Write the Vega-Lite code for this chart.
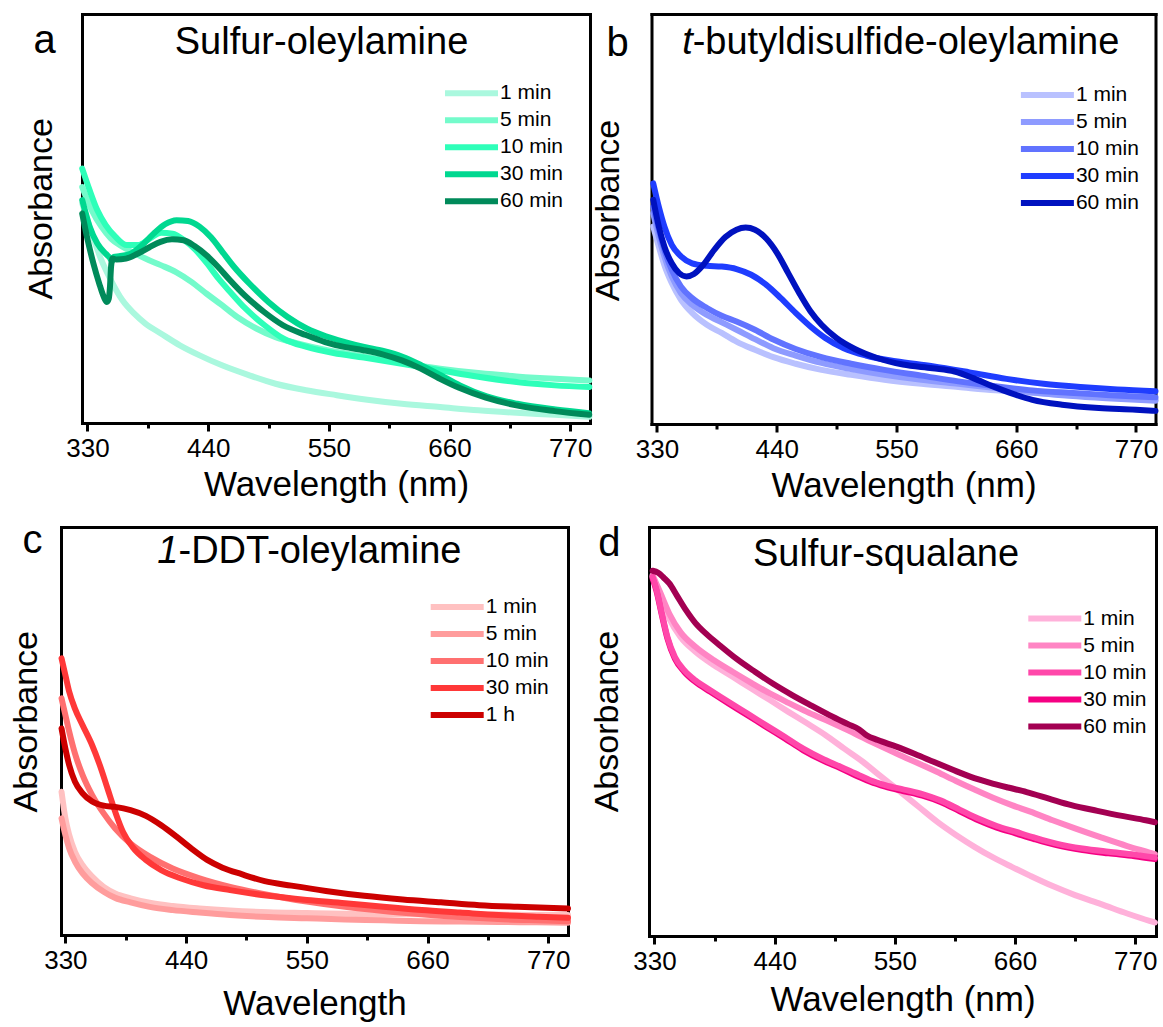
{
  "$schema": "https://vega.github.io/schema/vega-lite/v6.json",
  "autosize": {"type": "none"},
  "padding": {"left": 61, "top": 14, "right": 1102, "bottom": 1013},
  "background": "white",
  "datasets": {
    "a": [
      {"t":"1 min","wl":325.2,"abs":0.537},{"t":"1 min","wl":334.0,"abs":0.463},{"t":"1 min","wl":342.7,"abs":0.398},{"t":"1 min","wl":351.4,"abs":0.349},{"t":"1 min","wl":361.9,"abs":0.300},{"t":"1 min","wl":372.4,"abs":0.268},{"t":"1 min","wl":382.8,"abs":0.243},{"t":"1 min","wl":396.8,"abs":0.219},{"t":"1 min","wl":414.2,"abs":0.190},{"t":"1 min","wl":431.7,"abs":0.166},{"t":"1 min","wl":452.6,"abs":0.141},{"t":"1 min","wl":477.0,"abs":0.117},{"t":"1 min","wl":501.4,"abs":0.096},{"t":"1 min","wl":529.3,"abs":0.080},{"t":"1 min","wl":557.2,"abs":0.068},{"t":"1 min","wl":585.1,"abs":0.057},{"t":"1 min","wl":616.5,"abs":0.047},{"t":"1 min","wl":651.4,"abs":0.039},{"t":"1 min","wl":686.3,"abs":0.031},{"t":"1 min","wl":721.1,"abs":0.025},{"t":"1 min","wl":756.0,"abs":0.020},{"t":"1 min","wl":787.4,"abs":0.015},
      {"t":"5 min","wl":325.2,"abs":0.577},{"t":"5 min","wl":334.0,"abs":0.520},{"t":"5 min","wl":342.7,"abs":0.480},{"t":"5 min","wl":351.4,"abs":0.451},{"t":"5 min","wl":361.9,"abs":0.431},{"t":"5 min","wl":372.4,"abs":0.416},{"t":"5 min","wl":382.8,"abs":0.402},{"t":"5 min","wl":396.8,"abs":0.386},{"t":"5 min","wl":410.7,"abs":0.369},{"t":"5 min","wl":424.7,"abs":0.345},{"t":"5 min","wl":438.6,"abs":0.316},{"t":"5 min","wl":452.6,"abs":0.288},{"t":"5 min","wl":466.5,"abs":0.259},{"t":"5 min","wl":483.9,"abs":0.231},{"t":"5 min","wl":501.4,"abs":0.210},{"t":"5 min","wl":522.3,"abs":0.194},{"t":"5 min","wl":546.4,"abs":0.179},{"t":"5 min","wl":581.9,"abs":0.163},{"t":"5 min","wl":616.5,"abs":0.147},{"t":"5 min","wl":651.4,"abs":0.133},{"t":"5 min","wl":686.3,"abs":0.122},{"t":"5 min","wl":721.1,"abs":0.114},{"t":"5 min","wl":756.0,"abs":0.108},{"t":"5 min","wl":787.4,"abs":0.104},
      {"t":"10 min","wl":325.2,"abs":0.622},{"t":"10 min","wl":332.0,"abs":0.569},{"t":"10 min","wl":339.0,"abs":0.520},{"t":"10 min","wl":346.6,"abs":0.484},{"t":"10 min","wl":355.6,"abs":0.455},{"t":"10 min","wl":365.7,"abs":0.435},{"t":"10 min","wl":376.2,"abs":0.435},{"t":"10 min","wl":386.7,"abs":0.451},{"t":"10 min","wl":397.1,"abs":0.465},{"t":"10 min","wl":407.6,"abs":0.463},{"t":"10 min","wl":418.1,"abs":0.447},{"t":"10 min","wl":428.5,"abs":0.423},{"t":"10 min","wl":439.0,"abs":0.390},{"t":"10 min","wl":449.5,"abs":0.353},{"t":"10 min","wl":459.9,"abs":0.321},{"t":"10 min","wl":473.9,"abs":0.280},{"t":"10 min","wl":491.4,"abs":0.239},{"t":"10 min","wl":508.8,"abs":0.206},{"t":"10 min","wl":529.8,"abs":0.186},{"t":"10 min","wl":554.2,"abs":0.171},{"t":"10 min","wl":581.9,"abs":0.160},{"t":"10 min","wl":616.5,"abs":0.145},{"t":"10 min","wl":651.4,"abs":0.129},{"t":"10 min","wl":686.3,"abs":0.113},{"t":"10 min","wl":721.1,"abs":0.100},{"t":"10 min","wl":756.0,"abs":0.092},{"t":"10 min","wl":787.4,"abs":0.088},
      {"t":"30 min","wl":325.2,"abs":0.545},{"t":"30 min","wl":332.0,"abs":0.480},{"t":"30 min","wl":339.0,"abs":0.439},{"t":"30 min","wl":346.6,"abs":0.414},{"t":"30 min","wl":350.1,"abs":0.405},{"t":"30 min","wl":352.5,"abs":0.396},{"t":"30 min","wl":354.0,"abs":0.406},{"t":"30 min","wl":358.9,"abs":0.408},{"t":"30 min","wl":369.3,"abs":0.414},{"t":"30 min","wl":379.8,"abs":0.435},{"t":"30 min","wl":390.3,"abs":0.463},{"t":"30 min","wl":400.7,"abs":0.486},{"t":"30 min","wl":411.2,"abs":0.496},{"t":"30 min","wl":421.7,"abs":0.494},{"t":"30 min","wl":432.1,"abs":0.480},{"t":"30 min","wl":442.6,"abs":0.454},{"t":"30 min","wl":453.1,"abs":0.418},{"t":"30 min","wl":463.5,"abs":0.382},{"t":"30 min","wl":477.5,"abs":0.341},{"t":"30 min","wl":494.9,"abs":0.296},{"t":"30 min","wl":512.4,"abs":0.259},{"t":"30 min","wl":529.8,"abs":0.231},{"t":"30 min","wl":547.3,"abs":0.212},{"t":"30 min","wl":564.7,"abs":0.198},{"t":"30 min","wl":582.2,"abs":0.186},{"t":"30 min","wl":599.6,"abs":0.176},{"t":"30 min","wl":617.1,"abs":0.162},{"t":"30 min","wl":634.5,"abs":0.141},{"t":"30 min","wl":651.9,"abs":0.117},{"t":"30 min","wl":669.4,"abs":0.092},{"t":"30 min","wl":693.8,"abs":0.065},{"t":"30 min","wl":721.7,"abs":0.047},{"t":"30 min","wl":756.6,"abs":0.033},{"t":"30 min","wl":787.0,"abs":0.024},
      {"t":"60 min","wl":325.2,"abs":0.512},{"t":"60 min","wl":330.2,"abs":0.447},{"t":"60 min","wl":335.4,"abs":0.390},{"t":"60 min","wl":340.7,"abs":0.341},{"t":"60 min","wl":344.9,"abs":0.308},{"t":"60 min","wl":347.7,"abs":0.296},{"t":"60 min","wl":349.4,"abs":0.304},{"t":"60 min","wl":350.5,"abs":0.333},{"t":"60 min","wl":351.5,"abs":0.382},{"t":"60 min","wl":352.9,"abs":0.402},{"t":"60 min","wl":356.4,"abs":0.400},{"t":"60 min","wl":365.1,"abs":0.402},{"t":"60 min","wl":375.6,"abs":0.414},{"t":"60 min","wl":386.1,"abs":0.429},{"t":"60 min","wl":396.5,"abs":0.443},{"t":"60 min","wl":407.0,"abs":0.449},{"t":"60 min","wl":417.5,"abs":0.447},{"t":"60 min","wl":427.9,"abs":0.432},{"t":"60 min","wl":438.4,"abs":0.410},{"t":"60 min","wl":448.9,"abs":0.382},{"t":"60 min","wl":459.3,"abs":0.351},{"t":"60 min","wl":473.3,"abs":0.312},{"t":"60 min","wl":490.7,"abs":0.272},{"t":"60 min","wl":508.2,"abs":0.239},{"t":"60 min","wl":529.1,"abs":0.215},{"t":"60 min","wl":546.6,"abs":0.198},{"t":"60 min","wl":564.0,"abs":0.186},{"t":"60 min","wl":581.5,"abs":0.178},{"t":"60 min","wl":598.9,"abs":0.168},{"t":"60 min","wl":616.4,"abs":0.153},{"t":"60 min","wl":633.8,"abs":0.133},{"t":"60 min","wl":651.3,"abs":0.108},{"t":"60 min","wl":668.7,"abs":0.086},{"t":"60 min","wl":693.1,"abs":0.062},{"t":"60 min","wl":721.0,"abs":0.043},{"t":"60 min","wl":755.9,"abs":0.029},{"t":"60 min","wl":787.3,"abs":0.020}
    ],
    "b": [
      {"t":"1 min","wl":326.6,"abs":0.482},{"t":"1 min","wl":331.7,"abs":0.433},{"t":"1 min","wl":336.8,"abs":0.388},{"t":"1 min","wl":343.6,"abs":0.344},{"t":"1 min","wl":352.1,"abs":0.303},{"t":"1 min","wl":362.3,"abs":0.271},{"t":"1 min","wl":375.9,"abs":0.242},{"t":"1 min","wl":389.5,"abs":0.222},{"t":"1 min","wl":403.1,"abs":0.201},{"t":"1 min","wl":420.0,"abs":0.181},{"t":"1 min","wl":437.0,"abs":0.163},{"t":"1 min","wl":457.4,"abs":0.147},{"t":"1 min","wl":481.2,"abs":0.132},{"t":"1 min","wl":508.4,"abs":0.120},{"t":"1 min","wl":538.9,"abs":0.108},{"t":"1 min","wl":573.0,"abs":0.098},{"t":"1 min","wl":606.9,"abs":0.090},{"t":"1 min","wl":640.9,"abs":0.082},{"t":"1 min","wl":674.9,"abs":0.076},{"t":"1 min","wl":708.9,"abs":0.070},{"t":"1 min","wl":742.8,"abs":0.066},{"t":"1 min","wl":770.0,"abs":0.063},{"t":"1 min","wl":788.0,"abs":0.059},
      {"t":"5 min","wl":326.6,"abs":0.514},{"t":"5 min","wl":331.7,"abs":0.457},{"t":"5 min","wl":336.8,"abs":0.409},{"t":"5 min","wl":343.6,"abs":0.360},{"t":"5 min","wl":352.1,"abs":0.319},{"t":"5 min","wl":362.3,"abs":0.291},{"t":"5 min","wl":375.9,"abs":0.266},{"t":"5 min","wl":389.5,"abs":0.248},{"t":"5 min","wl":403.1,"abs":0.230},{"t":"5 min","wl":420.0,"abs":0.207},{"t":"5 min","wl":437.0,"abs":0.185},{"t":"5 min","wl":457.4,"abs":0.167},{"t":"5 min","wl":481.2,"abs":0.149},{"t":"5 min","wl":508.4,"abs":0.134},{"t":"5 min","wl":538.9,"abs":0.120},{"t":"5 min","wl":573.0,"abs":0.108},{"t":"5 min","wl":606.9,"abs":0.098},{"t":"5 min","wl":640.9,"abs":0.088},{"t":"5 min","wl":674.9,"abs":0.077},{"t":"5 min","wl":708.9,"abs":0.069},{"t":"5 min","wl":742.8,"abs":0.063},{"t":"5 min","wl":770.0,"abs":0.059},{"t":"5 min","wl":788.0,"abs":0.057},
      {"t":"10 min","wl":326.6,"abs":0.530},{"t":"10 min","wl":331.7,"abs":0.474},{"t":"10 min","wl":336.8,"abs":0.425},{"t":"10 min","wl":343.6,"abs":0.376},{"t":"10 min","wl":352.1,"abs":0.335},{"t":"10 min","wl":362.3,"abs":0.307},{"t":"10 min","wl":375.9,"abs":0.283},{"t":"10 min","wl":389.5,"abs":0.264},{"t":"10 min","wl":403.1,"abs":0.250},{"t":"10 min","wl":420.0,"abs":0.230},{"t":"10 min","wl":437.0,"abs":0.206},{"t":"10 min","wl":457.4,"abs":0.183},{"t":"10 min","wl":481.2,"abs":0.163},{"t":"10 min","wl":508.4,"abs":0.147},{"t":"10 min","wl":538.9,"abs":0.132},{"t":"10 min","wl":573.0,"abs":0.118},{"t":"10 min","wl":606.9,"abs":0.104},{"t":"10 min","wl":640.9,"abs":0.092},{"t":"10 min","wl":674.9,"abs":0.082},{"t":"10 min","wl":708.9,"abs":0.076},{"t":"10 min","wl":742.8,"abs":0.071},{"t":"10 min","wl":770.0,"abs":0.067},{"t":"10 min","wl":788.0,"abs":0.065},
      {"t":"30 min","wl":326.6,"abs":0.587},{"t":"30 min","wl":331.7,"abs":0.530},{"t":"30 min","wl":336.8,"abs":0.482},{"t":"30 min","wl":343.6,"abs":0.437},{"t":"30 min","wl":352.1,"abs":0.409},{"t":"30 min","wl":362.3,"abs":0.392},{"t":"30 min","wl":375.9,"abs":0.386},{"t":"30 min","wl":389.5,"abs":0.384},{"t":"30 min","wl":403.1,"abs":0.378},{"t":"30 min","wl":416.6,"abs":0.364},{"t":"30 min","wl":430.2,"abs":0.340},{"t":"30 min","wl":443.8,"abs":0.307},{"t":"30 min","wl":457.4,"abs":0.271},{"t":"30 min","wl":471.0,"abs":0.238},{"t":"30 min","wl":484.6,"abs":0.210},{"t":"30 min","wl":501.6,"abs":0.185},{"t":"30 min","wl":522.0,"abs":0.167},{"t":"30 min","wl":549.2,"abs":0.153},{"t":"30 min","wl":583.1,"abs":0.141},{"t":"30 min","wl":617.1,"abs":0.126},{"t":"30 min","wl":651.1,"abs":0.110},{"t":"30 min","wl":685.1,"abs":0.098},{"t":"30 min","wl":719.1,"abs":0.090},{"t":"30 min","wl":753.0,"abs":0.084},{"t":"30 min","wl":788.0,"abs":0.080},
      {"t":"60 min","wl":326.6,"abs":0.547},{"t":"60 min","wl":331.7,"abs":0.482},{"t":"60 min","wl":336.8,"abs":0.433},{"t":"60 min","wl":343.6,"abs":0.392},{"t":"60 min","wl":350.4,"abs":0.368},{"t":"60 min","wl":357.2,"abs":0.360},{"t":"60 min","wl":364.0,"abs":0.366},{"t":"60 min","wl":372.5,"abs":0.388},{"t":"60 min","wl":382.7,"abs":0.425},{"t":"60 min","wl":392.9,"abs":0.456},{"t":"60 min","wl":403.1,"abs":0.474},{"t":"60 min","wl":411.5,"abs":0.479},{"t":"60 min","wl":420.0,"abs":0.474},{"t":"60 min","wl":430.2,"abs":0.453},{"t":"60 min","wl":440.4,"abs":0.417},{"t":"60 min","wl":450.6,"abs":0.368},{"t":"60 min","wl":460.8,"abs":0.319},{"t":"60 min","wl":471.0,"abs":0.275},{"t":"60 min","wl":481.2,"abs":0.242},{"t":"60 min","wl":494.8,"abs":0.210},{"t":"60 min","wl":511.8,"abs":0.183},{"t":"60 min","wl":532.2,"abs":0.161},{"t":"60 min","wl":556.0,"abs":0.145},{"t":"60 min","wl":583.1,"abs":0.136},{"t":"60 min","wl":603.5,"abs":0.128},{"t":"60 min","wl":620.5,"abs":0.112},{"t":"60 min","wl":637.5,"abs":0.093},{"t":"60 min","wl":654.5,"abs":0.076},{"t":"60 min","wl":674.9,"abs":0.059},{"t":"60 min","wl":702.1,"abs":0.047},{"t":"60 min","wl":736.0,"abs":0.039},{"t":"60 min","wl":770.0,"abs":0.035},{"t":"60 min","wl":788.0,"abs":0.032}
    ],
    "c": [
      {"t":"1 min","wl":326.5,"abs":0.351},{"t":"1 min","wl":330.0,"abs":0.286},{"t":"1 min","wl":333.5,"abs":0.245},{"t":"1 min","wl":338.7,"abs":0.204},{"t":"1 min","wl":345.7,"abs":0.171},{"t":"1 min","wl":354.4,"abs":0.143},{"t":"1 min","wl":364.9,"abs":0.118},{"t":"1 min","wl":375.4,"abs":0.102},{"t":"1 min","wl":389.4,"abs":0.090},{"t":"1 min","wl":406.8,"abs":0.079},{"t":"1 min","wl":427.8,"abs":0.071},{"t":"1 min","wl":452.2,"abs":0.065},{"t":"1 min","wl":480.1,"abs":0.060},{"t":"1 min","wl":515.1,"abs":0.056},{"t":"1 min","wl":550.0,"abs":0.054},{"t":"1 min","wl":584.9,"abs":0.052},{"t":"1 min","wl":619.8,"abs":0.051},{"t":"1 min","wl":654.7,"abs":0.051},{"t":"1 min","wl":689.6,"abs":0.050},{"t":"1 min","wl":724.6,"abs":0.050},{"t":"1 min","wl":759.5,"abs":0.049},{"t":"1 min","wl":788.0,"abs":0.049},
      {"t":"5 min","wl":326.5,"abs":0.286},{"t":"5 min","wl":330.0,"abs":0.245},{"t":"5 min","wl":333.5,"abs":0.212},{"t":"5 min","wl":338.7,"abs":0.180},{"t":"5 min","wl":345.7,"abs":0.151},{"t":"5 min","wl":354.4,"abs":0.127},{"t":"5 min","wl":364.9,"abs":0.106},{"t":"5 min","wl":375.4,"abs":0.091},{"t":"5 min","wl":389.4,"abs":0.080},{"t":"5 min","wl":406.8,"abs":0.069},{"t":"5 min","wl":427.8,"abs":0.061},{"t":"5 min","wl":452.2,"abs":0.055},{"t":"5 min","wl":480.1,"abs":0.049},{"t":"5 min","wl":515.1,"abs":0.044},{"t":"5 min","wl":550.0,"abs":0.041},{"t":"5 min","wl":584.9,"abs":0.038},{"t":"5 min","wl":619.8,"abs":0.036},{"t":"5 min","wl":654.7,"abs":0.034},{"t":"5 min","wl":689.6,"abs":0.033},{"t":"5 min","wl":724.6,"abs":0.032},{"t":"5 min","wl":759.5,"abs":0.031},{"t":"5 min","wl":788.0,"abs":0.030},
      {"t":"10 min","wl":326.5,"abs":0.580},{"t":"10 min","wl":330.0,"abs":0.539},{"t":"10 min","wl":333.5,"abs":0.498},{"t":"10 min","wl":338.7,"abs":0.445},{"t":"10 min","wl":345.7,"abs":0.392},{"t":"10 min","wl":354.4,"abs":0.343},{"t":"10 min","wl":364.9,"abs":0.298},{"t":"10 min","wl":375.4,"abs":0.261},{"t":"10 min","wl":389.4,"abs":0.224},{"t":"10 min","wl":406.8,"abs":0.192},{"t":"10 min","wl":427.8,"abs":0.163},{"t":"10 min","wl":452.2,"abs":0.139},{"t":"10 min","wl":480.1,"abs":0.118},{"t":"10 min","wl":515.1,"abs":0.098},{"t":"10 min","wl":550.0,"abs":0.082},{"t":"10 min","wl":584.9,"abs":0.069},{"t":"10 min","wl":619.8,"abs":0.059},{"t":"10 min","wl":654.7,"abs":0.051},{"t":"10 min","wl":689.6,"abs":0.044},{"t":"10 min","wl":724.6,"abs":0.039},{"t":"10 min","wl":759.5,"abs":0.036},{"t":"10 min","wl":788.0,"abs":0.034},
      {"t":"30 min","wl":326.5,"abs":0.678},{"t":"30 min","wl":330.0,"abs":0.637},{"t":"30 min","wl":333.5,"abs":0.596},{"t":"30 min","wl":338.7,"abs":0.555},{"t":"30 min","wl":345.7,"abs":0.514},{"t":"30 min","wl":354.4,"abs":0.465},{"t":"30 min","wl":361.4,"abs":0.416},{"t":"30 min","wl":368.4,"abs":0.359},{"t":"30 min","wl":375.4,"abs":0.302},{"t":"30 min","wl":382.4,"abs":0.253},{"t":"30 min","wl":391.1,"abs":0.216},{"t":"30 min","wl":403.3,"abs":0.184},{"t":"30 min","wl":417.3,"abs":0.159},{"t":"30 min","wl":434.7,"abs":0.139},{"t":"30 min","wl":455.7,"abs":0.122},{"t":"30 min","wl":480.1,"abs":0.110},{"t":"30 min","wl":515.1,"abs":0.096},{"t":"30 min","wl":550.0,"abs":0.086},{"t":"30 min","wl":584.9,"abs":0.078},{"t":"30 min","wl":619.8,"abs":0.069},{"t":"30 min","wl":654.7,"abs":0.061},{"t":"30 min","wl":689.6,"abs":0.055},{"t":"30 min","wl":724.6,"abs":0.049},{"t":"30 min","wl":759.5,"abs":0.045},{"t":"30 min","wl":788.0,"abs":0.042},
      {"t":"1 h","wl":326.5,"abs":0.506},{"t":"1 h","wl":330.0,"abs":0.457},{"t":"1 h","wl":333.5,"abs":0.416},{"t":"1 h","wl":338.7,"abs":0.376},{"t":"1 h","wl":345.7,"abs":0.347},{"t":"1 h","wl":354.4,"abs":0.327},{"t":"1 h","wl":364.9,"abs":0.317},{"t":"1 h","wl":375.4,"abs":0.314},{"t":"1 h","wl":389.4,"abs":0.306},{"t":"1 h","wl":403.3,"abs":0.292},{"t":"1 h","wl":417.3,"abs":0.269},{"t":"1 h","wl":431.3,"abs":0.241},{"t":"1 h","wl":445.2,"abs":0.211},{"t":"1 h","wl":459.2,"abs":0.184},{"t":"1 h","wl":473.2,"abs":0.165},{"t":"1 h","wl":490.6,"abs":0.149},{"t":"1 h","wl":511.6,"abs":0.132},{"t":"1 h","wl":536.0,"abs":0.121},{"t":"1 h","wl":567.4,"abs":0.108},{"t":"1 h","wl":602.3,"abs":0.096},{"t":"1 h","wl":637.3,"abs":0.087},{"t":"1 h","wl":672.2,"abs":0.080},{"t":"1 h","wl":707.1,"abs":0.073},{"t":"1 h","wl":742.0,"abs":0.069},{"t":"1 h","wl":788.0,"abs":0.065}
    ],
    "d": [
      {"t":"1 min","wl":328.3,"abs":0.878},{"t":"1 min","wl":335.1,"abs":0.833},{"t":"1 min","wl":343.6,"abs":0.776},{"t":"1 min","wl":353.8,"abs":0.731},{"t":"1 min","wl":367.5,"abs":0.695},{"t":"1 min","wl":384.5,"abs":0.662},{"t":"1 min","wl":401.5,"abs":0.634},{"t":"1 min","wl":418.6,"abs":0.605},{"t":"1 min","wl":435.6,"abs":0.577},{"t":"1 min","wl":452.6,"abs":0.548},{"t":"1 min","wl":469.6,"abs":0.520},{"t":"1 min","wl":486.7,"abs":0.491},{"t":"1 min","wl":503.7,"abs":0.458},{"t":"1 min","wl":520.7,"abs":0.426},{"t":"1 min","wl":537.8,"abs":0.389},{"t":"1 min","wl":554.8,"abs":0.353},{"t":"1 min","wl":571.8,"abs":0.316},{"t":"1 min","wl":588.9,"abs":0.279},{"t":"1 min","wl":605.9,"abs":0.247},{"t":"1 min","wl":622.9,"abs":0.218},{"t":"1 min","wl":639.9,"abs":0.192},{"t":"1 min","wl":657.0,"abs":0.169},{"t":"1 min","wl":674.0,"abs":0.147},{"t":"1 min","wl":694.4,"abs":0.122},{"t":"1 min","wl":714.9,"abs":0.100},{"t":"1 min","wl":738.7,"abs":0.078},{"t":"1 min","wl":762.6,"abs":0.055},{"t":"1 min","wl":783.0,"abs":0.037},{"t":"1 min","wl":788.0,"abs":0.033},
      {"t":"5 min","wl":328.3,"abs":0.882},{"t":"5 min","wl":335.1,"abs":0.841},{"t":"5 min","wl":343.6,"abs":0.788},{"t":"5 min","wl":353.8,"abs":0.743},{"t":"5 min","wl":367.5,"abs":0.707},{"t":"5 min","wl":384.5,"abs":0.674},{"t":"5 min","wl":401.5,"abs":0.646},{"t":"5 min","wl":418.6,"abs":0.619},{"t":"5 min","wl":435.6,"abs":0.593},{"t":"5 min","wl":452.6,"abs":0.570},{"t":"5 min","wl":469.6,"abs":0.548},{"t":"5 min","wl":486.7,"abs":0.528},{"t":"5 min","wl":503.7,"abs":0.507},{"t":"5 min","wl":520.7,"abs":0.485},{"t":"5 min","wl":537.8,"abs":0.463},{"t":"5 min","wl":554.8,"abs":0.442},{"t":"5 min","wl":571.8,"abs":0.422},{"t":"5 min","wl":588.9,"abs":0.401},{"t":"5 min","wl":605.9,"abs":0.379},{"t":"5 min","wl":622.9,"abs":0.358},{"t":"5 min","wl":639.9,"abs":0.338},{"t":"5 min","wl":657.0,"abs":0.320},{"t":"5 min","wl":674.0,"abs":0.304},{"t":"5 min","wl":694.4,"abs":0.283},{"t":"5 min","wl":714.9,"abs":0.263},{"t":"5 min","wl":738.7,"abs":0.241},{"t":"5 min","wl":762.6,"abs":0.220},{"t":"5 min","wl":783.0,"abs":0.204},{"t":"5 min","wl":788.0,"abs":0.200},
      {"t":"30 min","wl":328.3,"abs":0.874},{"t":"30 min","wl":331.7,"abs":0.845},{"t":"30 min","wl":336.8,"abs":0.784},{"t":"30 min","wl":341.9,"abs":0.727},{"t":"30 min","wl":348.7,"abs":0.678},{"t":"30 min","wl":357.2,"abs":0.646},{"t":"30 min","wl":367.5,"abs":0.621},{"t":"30 min","wl":381.1,"abs":0.597},{"t":"30 min","wl":398.1,"abs":0.568},{"t":"30 min","wl":415.1,"abs":0.540},{"t":"30 min","wl":432.2,"abs":0.511},{"t":"30 min","wl":449.2,"abs":0.483},{"t":"30 min","wl":466.2,"abs":0.454},{"t":"30 min","wl":483.3,"abs":0.430},{"t":"30 min","wl":500.3,"abs":0.410},{"t":"30 min","wl":517.3,"abs":0.389},{"t":"30 min","wl":527.5,"abs":0.377},{"t":"30 min","wl":541.2,"abs":0.365},{"t":"30 min","wl":558.2,"abs":0.354},{"t":"30 min","wl":575.2,"abs":0.343},{"t":"30 min","wl":592.3,"abs":0.327},{"t":"30 min","wl":609.3,"abs":0.305},{"t":"30 min","wl":626.3,"abs":0.283},{"t":"30 min","wl":643.3,"abs":0.265},{"t":"30 min","wl":660.4,"abs":0.251},{"t":"30 min","wl":677.4,"abs":0.237},{"t":"30 min","wl":697.8,"abs":0.222},{"t":"30 min","wl":721.7,"abs":0.210},{"t":"30 min","wl":745.5,"abs":0.202},{"t":"30 min","wl":769.4,"abs":0.195},{"t":"30 min","wl":788.0,"abs":0.188},
      {"t":"10 min","wl":328.3,"abs":0.878},{"t":"10 min","wl":331.7,"abs":0.849},{"t":"10 min","wl":336.8,"abs":0.788},{"t":"10 min","wl":341.9,"abs":0.731},{"t":"10 min","wl":348.7,"abs":0.682},{"t":"10 min","wl":357.2,"abs":0.650},{"t":"10 min","wl":367.5,"abs":0.625},{"t":"10 min","wl":381.1,"abs":0.601},{"t":"10 min","wl":398.1,"abs":0.572},{"t":"10 min","wl":415.1,"abs":0.544},{"t":"10 min","wl":432.2,"abs":0.515},{"t":"10 min","wl":449.2,"abs":0.487},{"t":"10 min","wl":466.2,"abs":0.458},{"t":"10 min","wl":483.3,"abs":0.434},{"t":"10 min","wl":500.3,"abs":0.414},{"t":"10 min","wl":517.3,"abs":0.393},{"t":"10 min","wl":527.5,"abs":0.381},{"t":"10 min","wl":541.2,"abs":0.369},{"t":"10 min","wl":558.2,"abs":0.358},{"t":"10 min","wl":575.2,"abs":0.347},{"t":"10 min","wl":592.3,"abs":0.331},{"t":"10 min","wl":609.3,"abs":0.309},{"t":"10 min","wl":626.3,"abs":0.287},{"t":"10 min","wl":643.3,"abs":0.269},{"t":"10 min","wl":660.4,"abs":0.255},{"t":"10 min","wl":677.4,"abs":0.241},{"t":"10 min","wl":697.8,"abs":0.226},{"t":"10 min","wl":721.7,"abs":0.214},{"t":"10 min","wl":745.5,"abs":0.206},{"t":"10 min","wl":769.4,"abs":0.199},{"t":"10 min","wl":788.0,"abs":0.192},
      {"t":"60 min","wl":328.3,"abs":0.893},{"t":"60 min","wl":333.4,"abs":0.888},{"t":"60 min","wl":338.5,"abs":0.876},{"t":"60 min","wl":343.6,"abs":0.862},{"t":"60 min","wl":350.4,"abs":0.833},{"t":"60 min","wl":359.0,"abs":0.796},{"t":"60 min","wl":367.5,"abs":0.765},{"t":"60 min","wl":377.7,"abs":0.738},{"t":"60 min","wl":389.6,"abs":0.711},{"t":"60 min","wl":404.9,"abs":0.678},{"t":"60 min","wl":422.0,"abs":0.646},{"t":"60 min","wl":439.0,"abs":0.616},{"t":"60 min","wl":456.0,"abs":0.589},{"t":"60 min","wl":473.1,"abs":0.564},{"t":"60 min","wl":490.1,"abs":0.540},{"t":"60 min","wl":507.1,"abs":0.518},{"t":"60 min","wl":517.3,"abs":0.505},{"t":"60 min","wl":524.1,"abs":0.491},{"t":"60 min","wl":534.4,"abs":0.479},{"t":"60 min","wl":551.4,"abs":0.463},{"t":"60 min","wl":568.4,"abs":0.445},{"t":"60 min","wl":585.4,"abs":0.426},{"t":"60 min","wl":602.5,"abs":0.407},{"t":"60 min","wl":619.5,"abs":0.389},{"t":"60 min","wl":636.5,"abs":0.375},{"t":"60 min","wl":653.6,"abs":0.363},{"t":"60 min","wl":670.6,"abs":0.352},{"t":"60 min","wl":691.0,"abs":0.336},{"t":"60 min","wl":711.5,"abs":0.320},{"t":"60 min","wl":735.3,"abs":0.306},{"t":"60 min","wl":759.2,"abs":0.293},{"t":"60 min","wl":779.6,"abs":0.283},{"t":"60 min","wl":788.0,"abs":0.278}
    ]
  },
  "spacing": 17,
  "resolve": {"scale": {"color": "independent"}, "legend": {"color": "independent"}},
  "vconcat": [
    {
      "spacing": -2.5,
      "resolve": {"scale": {"color": "independent"}, "legend": {"color": "independent"}},
      "hconcat": [
        {
          "width": 529, "height": 409,
          "data": {"name": "a"},
          "title": {"text": "a", "anchor": "start", "frame": "group", "offset": 0, "dx": -27.5, "dy": 78.7, "fontSize": 40, "baseline": "alphabetic"},
          "layer": [
            {
              "transform": [{"filter": {"field": "t", "oneOf": ["1 min", "5 min"]}}],
              "mark": {"type": "line", "strokeWidth": 6, "interpolate": "monotone", "strokeCap": "round", "strokeJoin": "round"},
              "encoding": {
                "x": {"field": "wl", "type": "quantitative", "scale": {"domain": [325, 788], "range": [21, 529], "nice": false, "zero": false},
                  "axis": {"orient": "bottom", "values": [330, 440, 550, 660, 770], "format": "d", "labelFontSize": 26, "labelPadding": 4, "labelFlush": false, "labelOverlap": false, "tickSize": 8, "domain": true, "title": "Wavelength (nm)", "titleFontSize": 35, "titleBaseline": "alphabetic", "titleY": 72.3}},
                "y": {"field": "abs", "type": "quantitative", "scale": {"domain": [0, 1], "nice": false, "zero": false},
                  "axis": {"orient": "left", "offset": -21, "domain": true, "ticks": false, "labels": false, "title": "Absorbance", "titleFontSize": 34, "titleAngle": 270, "titleAlign": "center", "titleBaseline": "alphabetic", "titleX": -30.3, "titleY": 194.3}},
                "color": {"field": "t", "type": "nominal", "scale": {"domain": ["1 min", "5 min", "10 min", "30 min", "60 min"], "range": ["#aaf8de", "#74fbcb", "#2effb9", "#00d890", "#008a5a"]},
                  "legend": {"orient": "none", "legendX": 381, "legendY": 69.3, "title": null, "direction": "vertical", "symbolType": "stroke", "symbolSize": 2809, "symbolStrokeWidth": 6, "labelFontSize": 21, "labelOffset": -1, "clipHeight": 20, "rowPadding": 6, "padding": 0}}
              }
            },
            {
              "transform": [{"filter": {"field": "t", "oneOf": ["10 min", "30 min"]}}],
              "mark": {"type": "line", "strokeWidth": 6, "interpolate": "monotone", "strokeCap": "round", "strokeJoin": "round"},
              "encoding": {
                "x": {"field": "wl", "type": "quantitative", "scale": {"domain": [325, 788], "range": [21, 529], "nice": false, "zero": false},
                  "axis": {"orient": "top", "domain": true, "ticks": false, "labels": false, "title": "Sulfur-oleylamine", "titleFontSize": 38, "titleAngle": 0, "titleAlign": "center", "titleBaseline": "alphabetic", "titleX": 260, "titleY": 39.3}},
                "y": {"field": "abs", "type": "quantitative", "scale": {"domain": [0, 1], "nice": false, "zero": false},
                  "axis": {"orient": "right", "domain": true, "ticks": false, "labels": false, "title": null}},
                "color": {"field": "t", "type": "nominal", "scale": {"domain": ["1 min", "5 min", "10 min", "30 min", "60 min"], "range": ["#aaf8de", "#74fbcb", "#2effb9", "#00d890", "#008a5a"]},
                  "legend": {"orient": "none", "legendX": 381, "legendY": 69.3, "title": null, "direction": "vertical", "symbolType": "stroke", "symbolSize": 2809, "symbolStrokeWidth": 6, "labelFontSize": 21, "labelOffset": -1, "clipHeight": 20, "rowPadding": 6, "padding": 0}}
              }
            },
            {
              "transform": [{"filter": {"field": "t", "oneOf": ["60 min"]}}],
              "mark": {"type": "line", "strokeWidth": 6, "interpolate": "monotone", "strokeCap": "round", "strokeJoin": "round"},
              "encoding": {
                "x": {"field": "wl", "type": "quantitative", "scale": {"domain": [325, 788], "range": [21, 529], "nice": false, "zero": false},
                  "axis": {"orient": "bottom", "values": [385, 495, 605, 715], "labels": false, "tickSize": 5, "domain": false, "title": null}},
                "y": {"field": "abs", "type": "quantitative", "scale": {"domain": [0, 1], "nice": false, "zero": false}, "axis": null},
                "color": {"field": "t", "type": "nominal", "scale": {"domain": ["1 min", "5 min", "10 min", "30 min", "60 min"], "range": ["#aaf8de", "#74fbcb", "#2effb9", "#00d890", "#008a5a"]},
                  "legend": {"orient": "none", "legendX": 381, "legendY": 69.3, "title": null, "direction": "vertical", "symbolType": "stroke", "symbolSize": 2809, "symbolStrokeWidth": 6, "labelFontSize": 21, "labelOffset": -1, "clipHeight": 20, "rowPadding": 6, "padding": 0}}
              }
            }
          ]
        },
        {
          "width": 504, "height": 410,
          "data": {"name": "b"},
          "title": {"text": "b", "anchor": "start", "frame": "group", "offset": 0, "dx": -45.1, "dy": 81.5, "fontSize": 40, "baseline": "alphabetic"},
          "layer": [
            {
              "transform": [{"filter": {"field": "t", "oneOf": ["1 min", "5 min"]}}],
              "mark": {"type": "line", "strokeWidth": 6, "interpolate": "monotone", "strokeCap": "round", "strokeJoin": "round"},
              "encoding": {
                "x": {"field": "wl", "type": "quantitative", "scale": {"domain": [325, 788], "nice": false, "zero": false},
                  "axis": {"orient": "bottom", "values": [330, 440, 550, 660, 770], "format": "d", "labelFontSize": 26, "labelPadding": 4, "labelFlush": false, "labelOverlap": false, "tickSize": 8, "domain": true, "title": "Wavelength (nm)", "titleFontSize": 35, "titleBaseline": "alphabetic", "titleY": 72.5}},
                "y": {"field": "abs", "type": "quantitative", "scale": {"domain": [0, 1], "nice": false, "zero": false},
                  "axis": {"orient": "left", "domain": true, "ticks": false, "labels": false, "title": "Absorbance", "titleFontSize": 34, "titleAngle": 270, "titleAlign": "center", "titleBaseline": "alphabetic", "titleX": -33.1, "titleY": 196}},
                "color": {"field": "t", "type": "nominal", "scale": {"domain": ["1 min", "5 min", "10 min", "30 min", "60 min"], "range": ["#b9c1ff", "#8e9bff", "#6173ff", "#1f3dff", "#0012bf"]},
                  "legend": {"orient": "none", "legendX": 366.4, "legendY": 71, "title": null, "direction": "vertical", "symbolType": "stroke", "symbolSize": 2809, "symbolStrokeWidth": 6, "labelFontSize": 21, "labelOffset": -1, "clipHeight": 20, "rowPadding": 6, "padding": 0}}
              }
            },
            {
              "transform": [{"filter": {"field": "t", "oneOf": ["10 min", "30 min"]}}],
              "mark": {"type": "line", "strokeWidth": 6, "interpolate": "monotone", "strokeCap": "round", "strokeJoin": "round"},
              "encoding": {
                "x": {"field": "wl", "type": "quantitative", "scale": {"domain": [325, 788], "nice": false, "zero": false},
                  "axis": {"orient": "top", "domain": true, "ticks": false, "labels": false, "title": "-butyldisulfide-oleylamine", "titleFontSize": 38, "titleAngle": 0, "titleAlign": "left", "titleBaseline": "alphabetic", "titleX": 40.7, "titleY": 39.3}},
                "y": {"field": "abs", "type": "quantitative", "scale": {"domain": [0, 1], "nice": false, "zero": false},
                  "axis": {"orient": "right", "domain": true, "ticks": false, "labels": false, "title": "t", "titleFontSize": 38, "titleFontStyle": "italic", "titleAngle": 0, "titleAlign": "right", "titleBaseline": "alphabetic", "titleX": -463.3, "titleY": 39.3}},
                "color": {"field": "t", "type": "nominal", "scale": {"domain": ["1 min", "5 min", "10 min", "30 min", "60 min"], "range": ["#b9c1ff", "#8e9bff", "#6173ff", "#1f3dff", "#0012bf"]},
                  "legend": {"orient": "none", "legendX": 366.4, "legendY": 71, "title": null, "direction": "vertical", "symbolType": "stroke", "symbolSize": 2809, "symbolStrokeWidth": 6, "labelFontSize": 21, "labelOffset": -1, "clipHeight": 20, "rowPadding": 6, "padding": 0}}
              }
            },
            {
              "transform": [{"filter": {"field": "t", "oneOf": ["60 min"]}}],
              "mark": {"type": "line", "strokeWidth": 6, "interpolate": "monotone", "strokeCap": "round", "strokeJoin": "round"},
              "encoding": {
                "x": {"field": "wl", "type": "quantitative", "scale": {"domain": [325, 788], "nice": false, "zero": false},
                  "axis": {"orient": "bottom", "values": [385, 495, 605, 715], "labels": false, "tickSize": 5, "domain": false, "title": null}},
                "y": {"field": "abs", "type": "quantitative", "scale": {"domain": [0, 1], "nice": false, "zero": false}, "axis": null},
                "color": {"field": "t", "type": "nominal", "scale": {"domain": ["1 min", "5 min", "10 min", "30 min", "60 min"], "range": ["#b9c1ff", "#8e9bff", "#6173ff", "#1f3dff", "#0012bf"]},
                  "legend": {"orient": "none", "legendX": 366.4, "legendY": 71, "title": null, "direction": "vertical", "symbolType": "stroke", "symbolSize": 2809, "symbolStrokeWidth": 6, "labelFontSize": 21, "labelOffset": -1, "clipHeight": 20, "rowPadding": 6, "padding": 0}}
              }
            }
          ]
        }
      ]
    },
    {
      "spacing": 19,
      "resolve": {"scale": {"color": "independent"}, "legend": {"color": "independent"}},
      "hconcat": [
        {
          "width": 507, "height": 408,
          "data": {"name": "c"},
          "title": {"text": "c", "anchor": "start", "frame": "group", "offset": 0, "dx": -38.5, "dy": 66, "fontSize": 40, "baseline": "alphabetic"},
          "layer": [
            {
              "transform": [{"filter": {"field": "t", "oneOf": ["1 min", "5 min"]}}],
              "mark": {"type": "line", "strokeWidth": 6, "interpolate": "monotone", "strokeCap": "round", "strokeJoin": "round"},
              "encoding": {
                "x": {"field": "wl", "type": "quantitative", "scale": {"domain": [326, 788], "nice": false, "zero": false},
                  "axis": {"orient": "bottom", "values": [330, 440, 550, 660, 770], "format": "d", "labelFontSize": 26, "labelPadding": 4, "labelFlush": false, "labelOverlap": false, "tickSize": 8, "domain": true, "title": "Wavelength", "titleFontSize": 35, "titleBaseline": "alphabetic", "titleY": 79.3}},
                "y": {"field": "abs", "type": "quantitative", "scale": {"domain": [0, 1], "nice": false, "zero": false},
                  "axis": {"orient": "left", "domain": true, "ticks": false, "labels": false, "title": "Absorbance", "titleFontSize": 34, "titleAngle": 270, "titleAlign": "center", "titleBaseline": "alphabetic", "titleX": -24.6, "titleY": 194.2}},
                "color": {"field": "t", "type": "nominal", "scale": {"domain": ["1 min", "5 min", "10 min", "30 min", "1 h"], "range": ["#ffc1c1", "#ff9c9c", "#ff7070", "#ff3838", "#cc0000"]},
                  "legend": {"orient": "none", "legendX": 366.7, "legendY": 70, "title": null, "direction": "vertical", "symbolType": "stroke", "symbolSize": 2809, "symbolStrokeWidth": 6, "labelFontSize": 21, "labelOffset": -1, "clipHeight": 20, "rowPadding": 6, "padding": 0}}
              }
            },
            {
              "transform": [{"filter": {"field": "t", "oneOf": ["10 min", "30 min"]}}],
              "mark": {"type": "line", "strokeWidth": 6, "interpolate": "monotone", "strokeCap": "round", "strokeJoin": "round"},
              "encoding": {
                "x": {"field": "wl", "type": "quantitative", "scale": {"domain": [326, 788], "nice": false, "zero": false},
                  "axis": {"orient": "top", "domain": true, "ticks": false, "labels": false, "title": "-DDT-oleylamine", "titleFontSize": 38, "titleAngle": 0, "titleAlign": "left", "titleBaseline": "alphabetic", "titleX": 117, "titleY": 35}},
                "y": {"field": "abs", "type": "quantitative", "scale": {"domain": [0, 1], "nice": false, "zero": false},
                  "axis": {"orient": "right", "domain": true, "ticks": false, "labels": false, "title": "1", "titleFontSize": 38, "titleFontStyle": "italic", "titleAngle": 0, "titleAlign": "right", "titleBaseline": "alphabetic", "titleX": -390, "titleY": 35}},
                "color": {"field": "t", "type": "nominal", "scale": {"domain": ["1 min", "5 min", "10 min", "30 min", "1 h"], "range": ["#ffc1c1", "#ff9c9c", "#ff7070", "#ff3838", "#cc0000"]},
                  "legend": {"orient": "none", "legendX": 366.7, "legendY": 70, "title": null, "direction": "vertical", "symbolType": "stroke", "symbolSize": 2809, "symbolStrokeWidth": 6, "labelFontSize": 21, "labelOffset": -1, "clipHeight": 20, "rowPadding": 6, "padding": 0}}
              }
            },
            {
              "transform": [{"filter": {"field": "t", "oneOf": ["1 h"]}}],
              "mark": {"type": "line", "strokeWidth": 6, "interpolate": "monotone", "strokeCap": "round", "strokeJoin": "round"},
              "encoding": {
                "x": {"field": "wl", "type": "quantitative", "scale": {"domain": [326, 788], "nice": false, "zero": false},
                  "axis": {"orient": "bottom", "values": [385, 495, 605, 715], "labels": false, "tickSize": 5, "domain": false, "title": null}},
                "y": {"field": "abs", "type": "quantitative", "scale": {"domain": [0, 1], "nice": false, "zero": false}, "axis": null},
                "color": {"field": "t", "type": "nominal", "scale": {"domain": ["1 min", "5 min", "10 min", "30 min", "1 h"], "range": ["#ffc1c1", "#ff9c9c", "#ff7070", "#ff3838", "#cc0000"]},
                  "legend": {"orient": "none", "legendX": 366.7, "legendY": 70, "title": null, "direction": "vertical", "symbolType": "stroke", "symbolSize": 2809, "symbolStrokeWidth": 6, "labelFontSize": 21, "labelOffset": -1, "clipHeight": 20, "rowPadding": 6, "padding": 0}}
              }
            }
          ]
        },
        {
          "width": 507, "height": 409,
          "data": {"name": "d"},
          "title": {"text": "d", "anchor": "start", "frame": "group", "offset": 0, "dx": -50.8, "dy": 69.3, "fontSize": 40, "baseline": "alphabetic"},
          "layer": [
            {
              "transform": [{"filter": {"field": "t", "oneOf": ["1 min", "5 min"]}}],
              "mark": {"type": "line", "strokeWidth": 6, "interpolate": "monotone", "strokeCap": "round", "strokeJoin": "round"},
              "encoding": {
                "x": {"field": "wl", "type": "quantitative", "scale": {"domain": [325, 789], "nice": false, "zero": false},
                  "axis": {"orient": "bottom", "values": [330, 440, 550, 660, 770], "format": "d", "labelFontSize": 26, "labelPadding": 4, "labelFlush": false, "labelOverlap": false, "tickSize": 8, "domain": true, "title": "Wavelength (nm)", "titleFontSize": 35, "titleBaseline": "alphabetic", "titleY": 74}},
                "y": {"field": "abs", "type": "quantitative", "scale": {"domain": [0, 1], "nice": false, "zero": false},
                  "axis": {"orient": "left", "domain": true, "ticks": false, "labels": false, "title": "Absorbance", "titleFontSize": 34, "titleAngle": 270, "titleAlign": "center", "titleBaseline": "alphabetic", "titleX": -31.4, "titleY": 194.1}},
                "color": {"field": "t", "type": "nominal", "scale": {"domain": ["1 min", "5 min", "10 min", "30 min", "60 min"], "range": ["#ffb1da", "#ff85c4", "#ff48aa", "#f50083", "#a30052"]},
                  "legend": {"orient": "none", "legendX": 376.3, "legendY": 81.6, "title": null, "direction": "vertical", "symbolType": "stroke", "symbolSize": 2809, "symbolStrokeWidth": 6, "labelFontSize": 21, "labelOffset": -1, "clipHeight": 20, "rowPadding": 6, "padding": 0}}
              }
            },
            {
              "transform": [{"filter": {"field": "t", "oneOf": ["10 min", "30 min"]}}],
              "mark": {"type": "line", "strokeWidth": 6, "interpolate": "monotone", "strokeCap": "round", "strokeJoin": "round"},
              "encoding": {
                "x": {"field": "wl", "type": "quantitative", "scale": {"domain": [325, 789], "nice": false, "zero": false},
                  "axis": {"orient": "top", "domain": true, "ticks": false, "labels": false, "title": "Sulfur-squalane", "titleFontSize": 38, "titleAngle": 0, "titleAlign": "center", "titleBaseline": "alphabetic", "titleX": 236.5, "titleY": 38.3}},
                "y": {"field": "abs", "type": "quantitative", "scale": {"domain": [0, 1], "nice": false, "zero": false},
                  "axis": {"orient": "right", "domain": true, "ticks": false, "labels": false, "title": null}},
                "color": {"field": "t", "type": "nominal", "scale": {"domain": ["1 min", "5 min", "10 min", "30 min", "60 min"], "range": ["#ffb1da", "#ff85c4", "#ff48aa", "#f50083", "#a30052"]},
                  "legend": {"orient": "none", "legendX": 376.3, "legendY": 81.6, "title": null, "direction": "vertical", "symbolType": "stroke", "symbolSize": 2809, "symbolStrokeWidth": 6, "labelFontSize": 21, "labelOffset": -1, "clipHeight": 20, "rowPadding": 6, "padding": 0}}
              }
            },
            {
              "transform": [{"filter": {"field": "t", "oneOf": ["60 min"]}}],
              "mark": {"type": "line", "strokeWidth": 6, "interpolate": "monotone", "strokeCap": "round", "strokeJoin": "round"},
              "encoding": {
                "x": {"field": "wl", "type": "quantitative", "scale": {"domain": [325, 789], "nice": false, "zero": false},
                  "axis": {"orient": "bottom", "values": [385, 495, 605, 715], "labels": false, "tickSize": 5, "domain": false, "title": null}},
                "y": {"field": "abs", "type": "quantitative", "scale": {"domain": [0, 1], "nice": false, "zero": false}, "axis": null},
                "color": {"field": "t", "type": "nominal", "scale": {"domain": ["1 min", "5 min", "10 min", "30 min", "60 min"], "range": ["#ffb1da", "#ff85c4", "#ff48aa", "#f50083", "#a30052"]},
                  "legend": {"orient": "none", "legendX": 376.3, "legendY": 81.6, "title": null, "direction": "vertical", "symbolType": "stroke", "symbolSize": 2809, "symbolStrokeWidth": 6, "labelFontSize": 21, "labelOffset": -1, "clipHeight": 20, "rowPadding": 6, "padding": 0}}
              }
            }
          ]
        }
      ]
    }
  ],
  "config": {
    "font": "Liberation Sans",
    "view": {"stroke": null},
    "axis": {"grid": false, "labelColor": "black", "titleColor": "black", "tickColor": "black", "domainColor": "black", "titleFontWeight": "normal", "domainWidth": 3, "domainCap": "square", "tickWidth": 3, "labelFont": "Liberation Sans", "titleFont": "Liberation Sans"},
    "legend": {"labelColor": "black", "labelFont": "Liberation Sans"},
    "title": {"color": "black", "fontWeight": "normal", "font": "Liberation Sans"}
  }
}
